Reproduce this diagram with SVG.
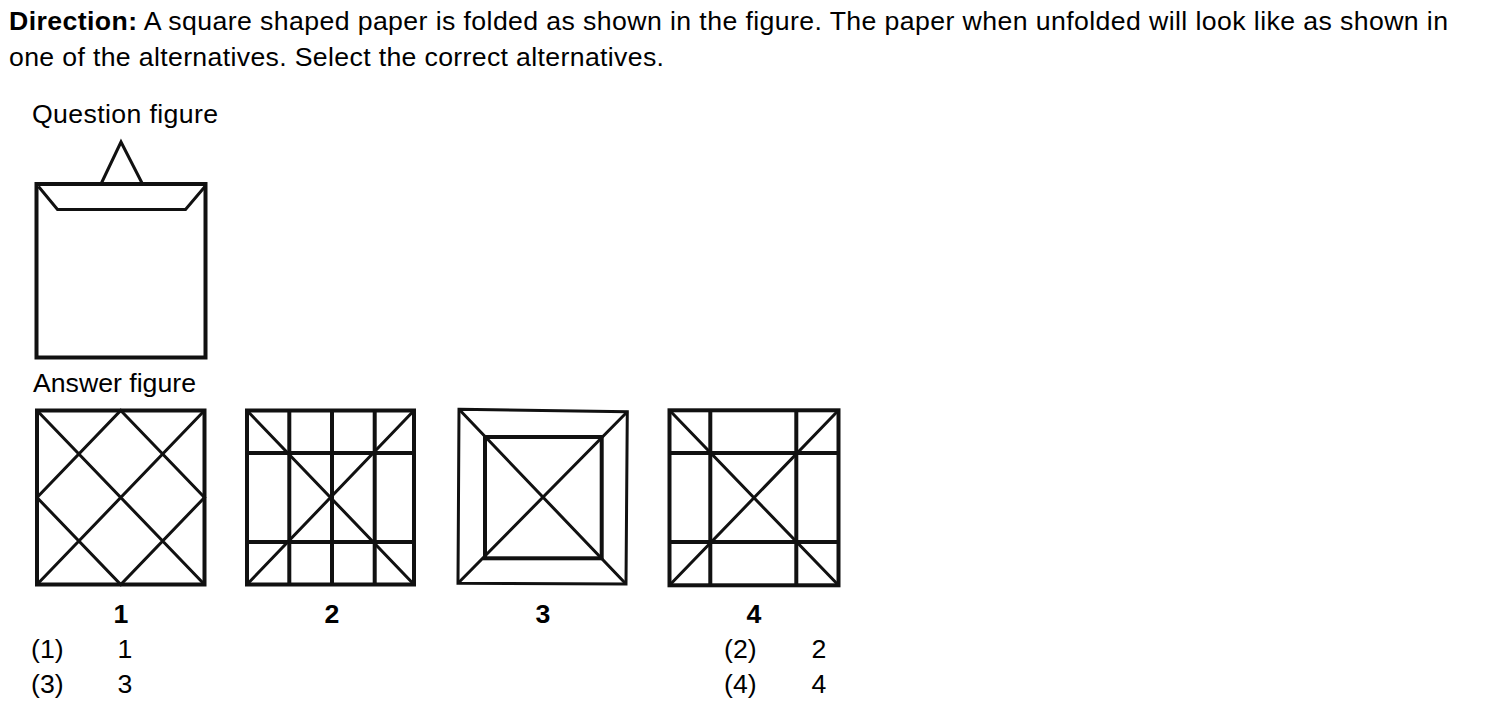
<svg xmlns="http://www.w3.org/2000/svg" width="1504" height="714" viewBox="0 0 1504 714">
<style>
text{font-family:"Liberation Sans",Arial,sans-serif;font-size:26.67px;fill:#000}
.b{font-weight:bold}
.m{text-anchor:middle}
.frame{fill:none;stroke:#111;stroke-width:4}
.thin{fill:none;stroke:#111;stroke-width:3;stroke-linejoin:miter}
</style>
<rect width="1504" height="714" fill="#fff"/>
<g id="direction">
<text x="9" y="29.5" textLength="1439" lengthAdjust="spacing"><tspan class="b">Direction:</tspan> A square shaped paper is folded as shown in the figure. The paper when unfolded will look like as shown in</text>
<text x="9" y="66" textLength="655" lengthAdjust="spacing">one of the alternatives. Select the correct alternatives.</text>
</g>
<g id="question-label"><text x="32" y="123" textLength="186" lengthAdjust="spacing">Question figure</text></g>
<g id="question-figure">
<polyline class="thin" points="101,184 121,142 142.5,184"/>
<polyline class="thin" points="38.5,186.5 57.5,209.5 185.5,209.5 205,186.5"/>
<rect class="frame" x="36.5" y="184" width="169" height="173.5"/>
</g>
<g id="answer-label"><text x="33" y="392.3">Answer figure</text></g>
<g id="answer-1">
<rect class="frame" x="37" y="410.5" width="167.5" height="174"/>
<path class="thin" d="M37,410.5 L204.5,584.5 M204.5,410.5 L37,584.5 M120.75,410.5 L204.5,497.5 L120.75,584.5 L37,497.5 Z"/>
<text class="b m" x="121" y="622.7">1</text>
</g>
<g id="answer-2">
<rect class="frame" x="247" y="410.5" width="167" height="174"/>
<path class="frame" d="M289.3,410.5 V584.5 M332,410.5 V584.5 M374.7,410.5 V584.5 M247,453 H414 M247,542 H414"/>
<path class="thin" d="M247,410.5 L414,584.5 M414,410.5 L247,584.5"/>
<text class="b m" x="332" y="622.7">2</text>
</g>
<g id="answer-3">
<polygon class="thin" points="459,409.3 627.3,411.7 626,584 458,583.3"/>
<rect class="frame" x="485" y="437" width="116.7" height="121.3"/>
<path class="thin" d="M459,409.3 L626,584 M627.3,411.7 L458,583.3"/>
<text class="b m" x="543" y="622.7">3</text>
</g>
<g id="answer-4">
<rect class="frame" x="669.5" y="410.3" width="169" height="175"/>
<path class="frame" d="M710.3,410.3 V585.3 M796.3,410.3 V585.3 M669.5,453 H838.5 M669.5,542 H838.5"/>
<path class="thin" d="M669.5,410.3 L838.5,585.3 M838.5,410.3 L669.5,585.3"/>
<text class="b m" x="754" y="622.7">4</text>
</g>
<g id="options">
<text x="31" y="658">(1)</text>
<text class="m" x="125" y="658">1</text>
<text x="31" y="693">(3)</text>
<text class="m" x="125" y="693">3</text>
<text x="724" y="658">(2)</text>
<text class="m" x="819" y="658">2</text>
<text x="724" y="693">(4)</text>
<text class="m" x="819" y="693">4</text>
</g>
</svg>
